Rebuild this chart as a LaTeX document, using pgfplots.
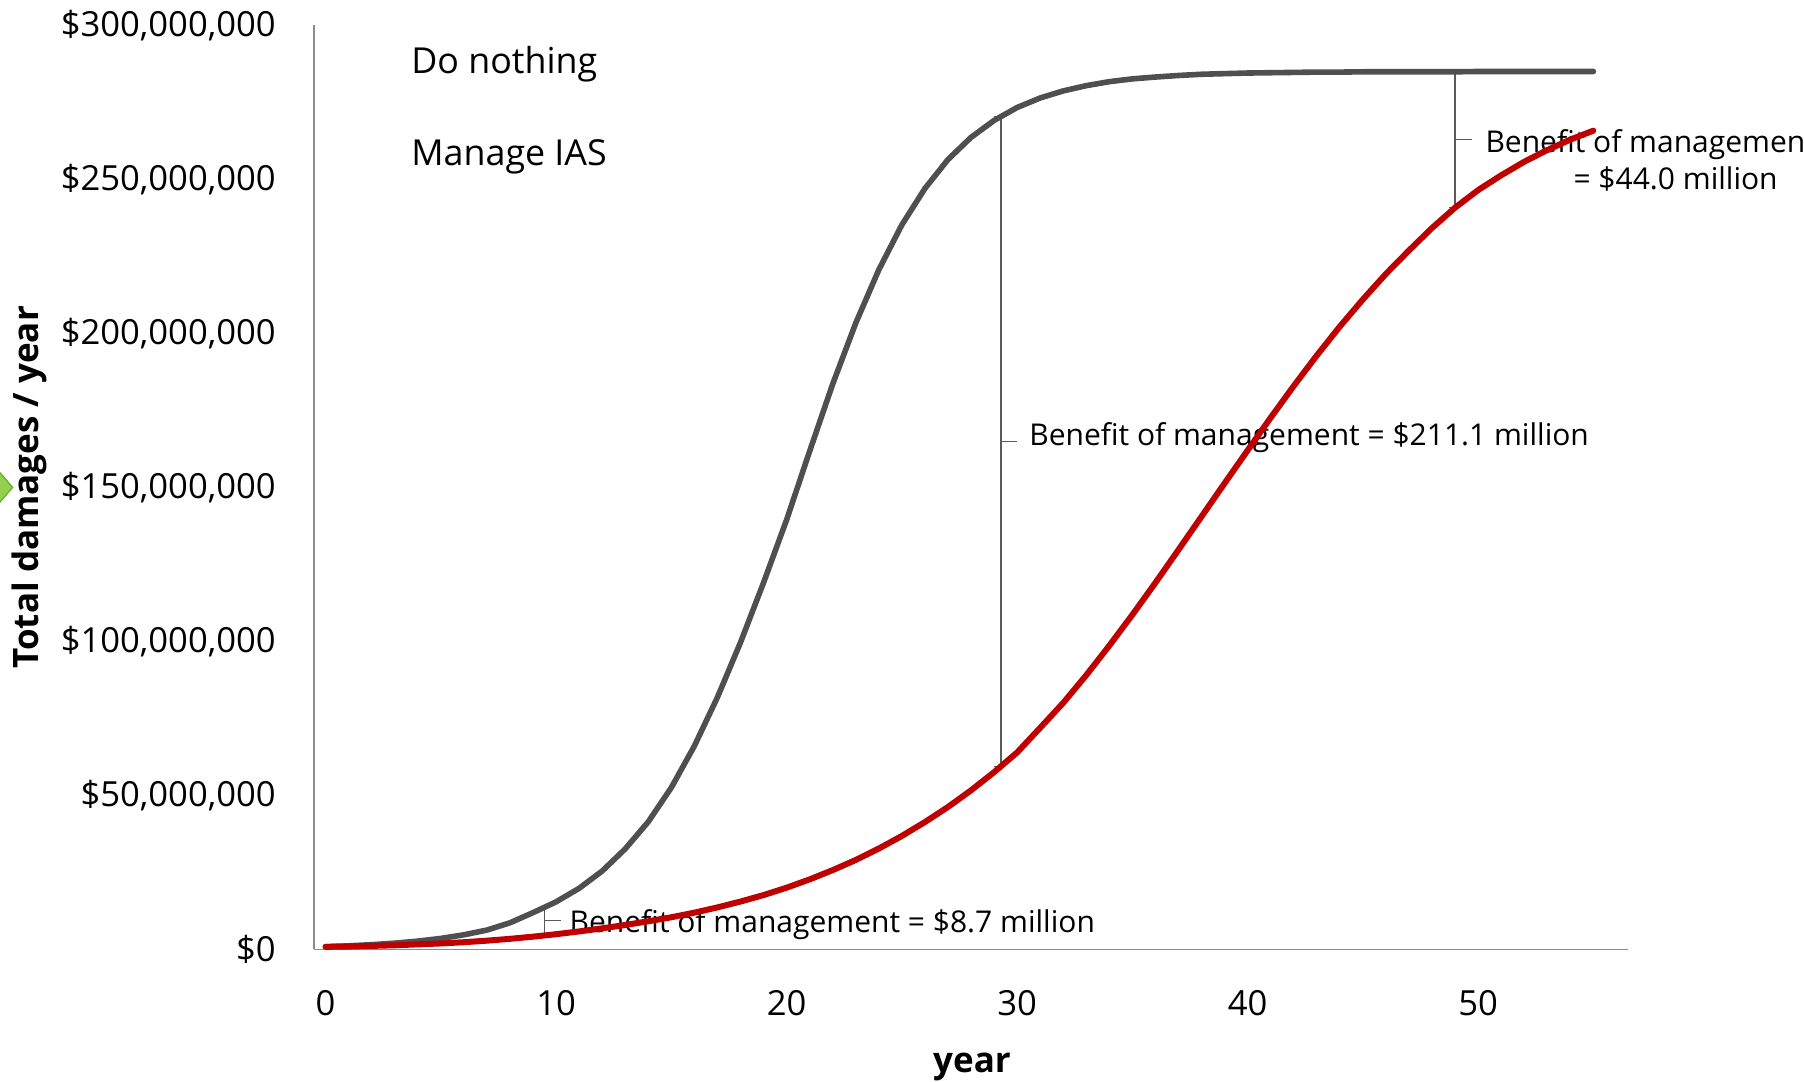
\documentclass[border=0pt]{standalone}
\usepackage{fontspec}
\setmainfont{Open Sans}
\usepackage{pgfplots}
\pgfplotsset{compat=1.18}
\usepackage{pgfplotstable}

\definecolor{nothinggray}{HTML}{4F4F4F}
\definecolor{managered}{HTML}{C00000}
\definecolor{axisgray}{HTML}{8C8C8C}
\definecolor{bracketgray}{HTML}{5A5A5A}
\definecolor{arrowgreen}{HTML}{92D050}
\definecolor{arrowedge}{HTML}{6AAB2E}

% Total damages per year (million $), no management
\pgfplotstableread{
year damage
0 0.84
1 1.12
2 1.50
3 1.99
4 2.65
5 3.53
6 4.70
7 6.24
8 8.6
9 11.9
10 15.4
11 19.8
12 25.4
13 32.6
14 41.4
15 52.5
16 66.0
17 81.8
18 99.6
19 119.0
20 139.4
21 161.7
22 183.5
23 203.3
24 220.6
25 235.2
26 247.0
27 256.4
28 263.6
29 269.1
30 273.3
31 276.4
32 278.7
33 280.4
34 281.7
35 282.6
36 283.2
37 283.7
38 284.1
39 284.3
40 284.5
41 284.6
42 284.7
43 284.8
44 284.8
45 284.9
46 284.9
47 284.9
48 284.9
49 284.9
50 285.0
51 285.0
52 285.0
53 285.0
54 285.0
55 285.0
}\donothing

% Total damages per year (million $), with IAS management
\pgfplotstableread{
year damage
0 0.8
1 0.9
2 1.1
3 1.3
4 1.6
5 1.9
6 2.3
7 2.8
8 3.4
9 4.1
10 4.9
11 5.8
12 6.8
13 7.9
14 9.1
15 10.4
16 11.9
17 13.6
18 15.5
19 17.6
20 20.0
21 22.7
22 25.7
23 29.0
24 32.7
25 36.8
26 41.3
27 46.2
28 51.6
29 57.5
30 63.9
31 71.9
32 80.0
33 89.0
34 98.6
35 108.6
36 119.0
37 129.7
38 140.5
39 151.3
40 162.0
41 172.6
42 182.9
43 192.8
44 202.2
45 211.0
46 219.3
47 226.9
48 234.2
49 240.8
50 246.5
51 251.3
52 255.7
53 259.5
54 262.9
55 265.8
}\manageias

\newcommand{\ticksize}{\fontsize{17.3}{20}\selectfont}
\newcommand{\notesize}{\fontsize{15}{18}\selectfont}

\begin{document}
\begin{tikzpicture}
\useasboundingbox (-157pt,-65.9pt) rectangle (745pt,474.65pt);
\begin{axis}[
  at={(0pt,0pt)}, anchor=south west,
  scale only axis, width=657pt, height=462pt,
  xmin=-0.5, xmax=56.5, ymin=0, ymax=300,
  axis x line*=bottom, axis y line*=left,
  axis line style={axisgray, line width=0.75pt},
  major tick length=0pt,
  xtick={0,10,20,30,40,50},
  xticklabels={0,10,20,30,40,50},
  ytick={0,50,100,150,200,250,300},
  yticklabels={\$0,{\$50,000,000},{\$100,000,000},{\$150,000,000},{\$200,000,000},{\$250,000,000},{\$300,000,000}},
  xticklabel style={font=\ticksize, inner sep=0pt, anchor=north, yshift=-20.5pt},
  yticklabel style={font=\ticksize, inner sep=0pt, anchor=east, xshift=-19pt},
  clip=false,
]
% benefit brackets: from the no-management curve down by the stated benefit
\draw[bracketgray, line width=0.7pt]
  ([xshift=-3.3pt]axis cs:9.5,13.65) -- (axis cs:9.5,13.65) -- (axis cs:9.5,4.95) -- ([xshift=-3.3pt]axis cs:9.5,4.95);
\draw[bracketgray, line width=0.7pt] (axis cs:9.5,9.3) -- ++(2.5pt,0);
\node[anchor=west, font=\notesize, inner sep=0pt, xshift=12.4pt, yshift=-2pt] at (axis cs:9.5,9.3)
  {Benefit of management = \$8.7 million};

\draw[bracketgray, line width=0.7pt]
  ([xshift=-3.3pt]axis cs:29.3,270.4) -- (axis cs:29.3,270.4) -- (axis cs:29.3,59.3) -- ([xshift=-3.3pt]axis cs:29.3,59.3);
\draw[bracketgray, line width=0.7pt] (axis cs:29.3,164.85) -- ++(2.5pt,0);
\node[anchor=west, font=\notesize, inner sep=0pt, xshift=14pt, yshift=2pt] at (axis cs:29.3,164.85)
  {Benefit of management = \$211.1 million};

\draw[bracketgray, line width=0.7pt]
  ([xshift=-3.3pt]axis cs:49,284.9) -- (axis cs:49,284.9) -- (axis cs:49,240.9) -- ([xshift=-3.3pt]axis cs:49,240.9);
\draw[bracketgray, line width=0.7pt] (axis cs:49,262.9) -- ++(2.5pt,0);
\node[anchor=west, font=\notesize, inner sep=0pt, xshift=15pt, yshift=-2.3pt] at (axis cs:49,262.9)
  {Benefit of management};
\node[anchor=base west, font=\notesize, inner sep=0pt, xshift=59pt, yshift=-25.2pt] at (axis cs:49,262.9)
  {= \$44.0 million};

\addplot[nothinggray, line width=2.8pt, line cap=round, line join=round]
  table[x=year, y=damage] {\donothing};
\addplot[managered, line width=3pt, line cap=round, line join=round]
  table[x=year, y=damage] {\manageias};
\end{axis}

% series names
\node[anchor=base west, inner sep=0pt, font=\fontsize{17.9}{20}\selectfont] at (48.5pt,437.8pt) {Do nothing};
\node[anchor=base west, inner sep=0pt, font=\fontsize{17.9}{20}\selectfont] at (48.5pt,391.8pt) {Manage IAS};

% axis titles
\node[rotate=90, inner sep=0pt, font=\bfseries\fontsize{17.5}{20}\selectfont] at (-142.5pt,231pt) {Total damages / year};
\node[inner sep=0pt, font=\bfseries\fontsize{17.5}{20}\selectfont] at (329pt,-58.9pt) {year};

% green marker at the left margin
\filldraw[fill=arrowgreen, draw=arrowedge, line width=0.6pt]
  (-150.65pt,230.95pt) -- (-163pt,245.3pt) -- (-163pt,216.6pt) -- cycle;
\end{tikzpicture}
\end{document}
